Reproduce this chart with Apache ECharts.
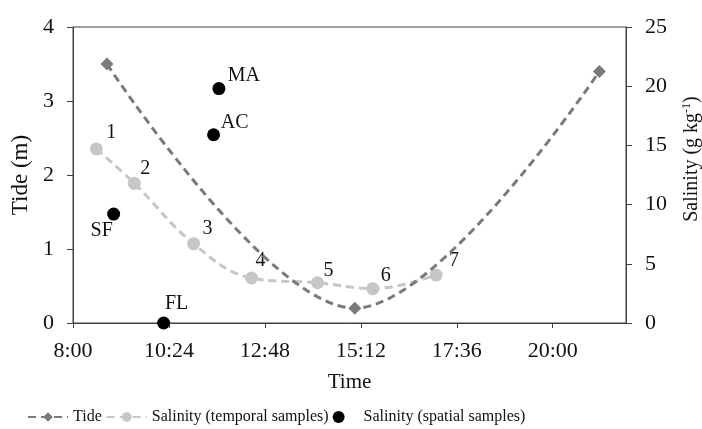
<!DOCTYPE html>
<html>
<head>
<meta charset="utf-8">
<script src="https://cdn.jsdelivr.net/npm/echarts@6/dist/echarts.min.js"></script>
<style>
html,body{margin:0;padding:0;background:#fff;}
#chart{width:702px;height:429px;}
</style>
</head>
<body>
<div id="chart"></div>
<script>
// ---- data ----
var xTickLabels = ['8:00', '10:24', '12:48', '15:12', '17:36', '20:00'];
var xAxisEnd = '21:50';
var tideTimes = ['8:51', '15:03', '21:10'];
var tideValues = [3.5, 0.2, 3.4];
var tempNames = ['1', '2', '3', '4', '5', '6', '7'];
var tempTimes = ['8:35', '9:32', '11:01', '12:28', '14:07', '15:30', '17:05'];
var tempValues = [14.7, 11.8, 6.7, 3.8, 3.4, 2.9, 4.05];
var spatNames = ['SF', 'FL', 'AC', 'MA'];
var spatTimes = ['9:01', '10:16', '11:31', '11:39'];
var spatValues = [9.2, 0, 15.9, 19.8];
var tideTicks = [0, 1, 2, 3, 4];
var salTicks = [0, 5, 10, 15, 20, 25];

// ---- helpers ----
function toMin(s) { var p = s.split(':'); return (+p[0]) * 60 + (+p[1]) - 480; }
function fmt(v) { var t = Math.round(v + 480); var h = Math.floor(t / 60), m = t % 60; return h + ':' + (m < 10 ? '0' : '') + m; }
var xTickVals = xTickLabels.map(toMin);

// label placement (style only)
var tempLabelOffsets = [[15, -16], [11, -15], [14, -15], [9, -17], [11, -12], [13, -13], [18, -14]];
var spatLabelOffsets = { SF: [-12, 17], FL: [13, -19], AC: [21, -12], MA: [25, -13] };

var FONT = 'Liberation Serif';
var TXT = '#111';
var AX = '#404040';

var chart = echarts.init(document.getElementById('chart'), null, { renderer: 'canvas' });
chart.setOption({
  animation: false,
  backgroundColor: '#fff',
  textStyle: { fontFamily: FONT, color: TXT },
  grid: { left: 73, right: 76, top: 27, bottom: 106, outerBoundsMode: 'none', containLabel: false,
    show: true, borderColor: AX, borderWidth: 1, backgroundColor: 'transparent' },
  legend: {
    left: 22, top: 404, itemWidth: 40, itemHeight: 12, itemGap: 4,
    textStyle: { fontFamily: FONT, fontSize: 16, color: TXT },
    data: ['Tide', 'Salinity (temporal samples)', 'Salinity (spatial samples)']
  },
  xAxis: {
    type: 'value', min: 0, max: toMin(xAxisEnd), interval: 144,
    name: 'Time', nameLocation: 'middle', nameGap: 49,
    nameTextStyle: { fontFamily: FONT, fontSize: 21, color: TXT },
    axisLine: { show: true, lineStyle: { color: AX, width: 1 } },
    axisTick: { show: true, length: 5, lineStyle: { color: AX }, customValues: xTickVals },
    axisLabel: { fontFamily: FONT, fontSize: 22, color: TXT, margin: 17, customValues: xTickVals, formatter: fmt },
    splitLine: { show: false }
  },
  yAxis: [{
    type: 'value', min: tideTicks[0], max: tideTicks[tideTicks.length - 1], interval: 1, position: 'left',
    name: 'Tide (m)', nameLocation: 'middle', nameGap: 34, nameRotate: 90,
    nameTextStyle: { fontFamily: FONT, fontSize: 23, color: TXT },
    axisLine: { show: true, lineStyle: { color: AX } },
    axisTick: { show: true, length: 6, lineStyle: { color: AX } },
    axisLabel: { fontFamily: FONT, fontSize: 22, color: TXT, margin: 19 },
    splitLine: { show: false }
  }, {
    type: 'value', min: salTicks[0], max: salTicks[salTicks.length - 1], interval: 5, position: 'right',
    name: 'Salinity (g kg{sup|-1})', nameLocation: 'middle', nameGap: 55, nameRotate: 90,
    nameTextStyle: { fontFamily: FONT, fontSize: 20, color: TXT, padding: [0, 0, 0, 32],
      rich: { sup: { fontFamily: FONT, fontSize: 12, color: TXT, verticalAlign: 'top', lineHeight: 22 } } },
    axisLine: { show: true, lineStyle: { color: AX } },
    axisTick: { show: true, length: 6, lineStyle: { color: AX } },
    axisLabel: { fontFamily: FONT, fontSize: 22, color: TXT, margin: 19 },
    splitLine: { show: false }
  }],
  series: [{
    name: 'Salinity (temporal samples)', type: 'line', yAxisIndex: 1, smooth: 0.4,
    symbol: 'circle', symbolSize: 13,
    lineStyle: { color: '#c6c6c6', width: 3, type: [8, 5] },
    itemStyle: { color: '#c6c6c6' },
    data: tempTimes.map(function (t, i) {
      return { value: [toMin(t), tempValues[i]], name: tempNames[i], label: { offset: tempLabelOffsets[i] } };
    }),
    label: { show: true, position: 'inside', fontFamily: FONT, fontSize: 20, color: TXT,
      formatter: function (p) { return p.name; } },
    z: 2
  }, {
    name: 'Tide', type: 'line', yAxisIndex: 0, smooth: 0.35,
    symbol: 'diamond', symbolSize: 13,
    lineStyle: { color: '#7a7a7a', width: 3, type: [8, 5] },
    itemStyle: { color: '#7a7a7a' },
    data: tideTimes.map(function (t, i) { return [toMin(t), tideValues[i]]; }),
    z: 3
  }, {
    name: 'Salinity (spatial samples)', type: 'scatter', yAxisIndex: 1,
    symbol: 'circle', symbolSize: 13,
    itemStyle: { color: '#000', opacity: 1 },
    data: spatTimes.map(function (t, i) {
      return { value: [toMin(t), spatValues[i]], name: spatNames[i],
        label: { offset: spatLabelOffsets[spatNames[i]] } };
    }),
    label: { show: true, position: 'inside', fontFamily: FONT, fontSize: 20, color: TXT,
      formatter: function (p) { return p.name; } },
    z: 4
  }]
});
</script>
</body>
</html>
